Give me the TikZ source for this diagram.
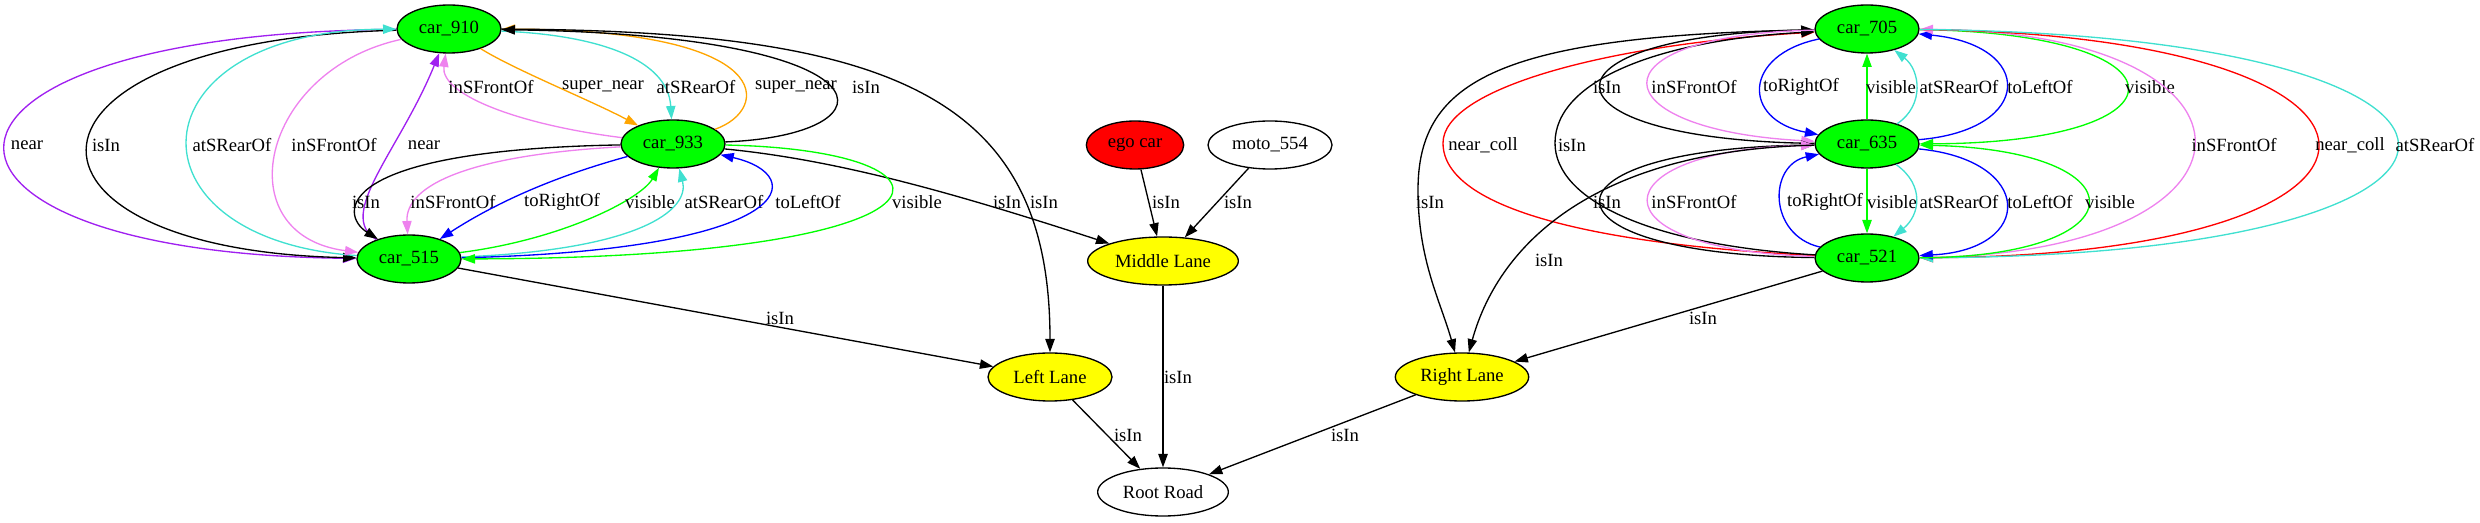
\documentclass[tikz,border=0pt]{standalone}
\usepackage{fontspec}
\setmainfont{Liberation Serif}
\usetikzlibrary{arrows.meta,shapes.geometric}

\definecolor{gvgreen}{HTML}{00FF00}
\definecolor{gvyellow}{HTML}{FFFF00}
\definecolor{gvred}{HTML}{FF0000}
\definecolor{gvblue}{HTML}{0000FF}
\definecolor{gvturq}{HTML}{40E0D0}
\definecolor{gvviolet}{HTML}{EE82EE}
\definecolor{gvpurple}{HTML}{A020F0}
\definecolor{gvorange}{HTML}{FFA500}

\tikzset{
    obj/.style={ellipse, draw, line width=1pt, inner sep=0pt, minimum height=36pt,
        font=\fontsize{14pt}{16pt}\selectfont},
    car/.style={obj, fill=gvgreen, minimum width=78pt},
    lane/.style={obj, fill=gvyellow},
    rel/.style={line width=1pt, -{Triangle[length=10pt,width=7pt]}},
    lbl/.style={inner sep=0pt, text=black, font=\fontsize{14pt}{16pt}\selectfont}
}

\begin{document}
\begin{tikzpicture}[x=0.75pt, y=-0.75pt]
    \useasboundingbox (0,0) rectangle (2480,523);

    % objects
    \node[car] (car910) at (449,29) {car\_910};
    \node[car] (car933) at (673,144) {car\_933};
    \node[car] (car515) at (409,259) {car\_515};
    \node[car] (car705) at (1867,29) {car\_705};
    \node[car] (car635) at (1867,144) {car\_635};
    \node[car] (car521) at (1867,258) {car\_521};
    \node[obj, fill=gvred, minimum width=73pt] (ego) at (1135,145) {ego car};
    \node[obj, fill=white, minimum width=93pt] (moto554) at (1270,145) {moto\_554};
    \node[lane, minimum width=113pt] (midlane) at (1163,261) {Middle Lane};
    \node[lane, minimum width=93pt] (leftlane) at (1050,377) {Left Lane};
    \node[lane, minimum width=100pt] (rightlane) at (1462,377) {Right Lane};
    \node[obj, fill=white, minimum width=98pt] (root) at (1163,492) {Root Road};

    % car_910 / car_515
    \draw[rel, gvpurple] (car910) .. controls (-118,33) and (-118,253) .. (car515) node[lbl] (l1) at (27,145) {near};
    \draw[rel] (car910) .. controls (-8,40) and (-8,250) .. (car515) node[lbl] (l2) at (106,145) {isIn};
    \draw[rel, gvturq] (car515) .. controls (120,240) and (130,30) .. (car910) node[lbl] (l3) at (232,145) {atSRearOf};
    \draw[rel, gvviolet] (car910) .. controls (260,70) and (225,235) .. (car515) node[lbl] (l4) at (334,145) {inSFrontOf};
    \draw[rel, gvpurple] (car515) .. controls (335,215) and (400,150) .. (car910) node[lbl] (l5) at (424,145) {near};

    % car_910 / car_933
    \draw[rel, gvviolet] (car933) .. controls (520,125) and (440,95) .. (car910) node[lbl] (l6) at (491,87) {inSFrontOf};
    \draw[rel, gvorange] (car910) .. controls (515,70) and (590,100) .. (car933) node[lbl] (l7) at (603,87) {super\_near};
    \draw[rel, gvturq] (car910) .. controls (600,35) and (668,60) .. (car933) node[lbl] (l8) at (696,87) {atSRearOf};
    \draw[rel, gvorange] (car933) .. controls (770,110) and (780,30) .. (car910) node[lbl] (l9) at (796,87) {super\_near};
    \draw[rel] (car933) .. controls (900,135) and (900,35) .. (car910) node[lbl] (l10) at (866,87) {isIn};
    \draw[rel] (car910) .. controls (900,30) and (1050,100) .. (leftlane) node[lbl] (l11) at (1044,202) {isIn};
    \draw[rel] (car933) .. controls (840,160) and (960,195) .. (midlane) node[lbl] (l12) at (1007,202) {isIn};

    % car_933 / car_515
    \draw[rel] (car933) .. controls (330,150) and (340,215) .. (car515) node[lbl] (l13) at (366,202) {isIn};
    \draw[rel, gvviolet] (car933) .. controls (470,155) and (405,185) .. (car515) node[lbl] (l14) at (453,202) {inSFrontOf};
    \draw[rel, gvblue] (car933) .. controls (560,175) and (500,200) .. (car515) node[lbl] (l15) at (562,202) {toRightOf};
    \draw[rel, gvgreen] (car515) .. controls (560,240) and (640,200) .. (car933) node[lbl] (l16) at (650,202) {visible};
    \draw[rel, gvturq] (car515) .. controls (640,250) and (690,210) .. (car933) node[lbl] (l17) at (724,202) {atSRearOf};
    \draw[rel, gvblue] (car515) .. controls (800,250) and (810,175) .. (car933) node[lbl] (l18) at (808,202) {toLeftOf};
    \draw[rel, gvgreen] (car933) .. controls (980,150) and (980,258) .. (car515) node[lbl] (l19) at (917,202) {visible};

    % lanes and road
    \draw[rel] (car515) -- (leftlane) node[lbl] (l20) at (780,318) {isIn};
    \draw[rel] (ego) -- (midlane) node[lbl] (l21) at (1166,202) {isIn};
    \draw[rel] (moto554) -- (midlane) node[lbl] (l22) at (1238,202) {isIn};
    \draw[rel] (midlane) -- (root) node[lbl] (l23) at (1178,377) {isIn};
    \draw[rel] (leftlane) -- (root) node[lbl] (l24) at (1128,435) {isIn};
    \draw[rel] (rightlane) -- (root) node[lbl] (l25) at (1345,435) {isIn};

    % car_705 / car_635 / car_521, left side
    \draw[rel] (car705) .. controls (1500,35) and (1418,80) .. (1418,190) .. controls (1418,260) and (1440,300) .. (rightlane) node[lbl] (l26) at (1430,202) {isIn};
    \draw[rel, gvred] (car521) .. controls (1600,245) and (1443,210) .. (1443,143) .. controls (1443,90) and (1600,45) .. (car705) node[lbl] (l27) at (1483,145) {near\_coll};
    \draw[rel] (car521) .. controls (1650,245) and (1555,200) .. (1555,143) .. controls (1555,80) and (1660,40) .. (car705) node[lbl] (l28) at (1572,145) {isIn};
    \draw[rel] (car635) .. controls (1530,140) and (1530,35) .. (car705) node[lbl] (l29) at (1607,87) {isIn};
    \draw[rel, gvviolet] (car705) .. controls (1586,35) and (1600,130) .. (car635) node[lbl] (l30) at (1694,87) {inSFrontOf};
    \draw[rel] (car521) .. controls (1530,255) and (1530,150) .. (car635) node[lbl] (l31) at (1607,202) {isIn};
    \draw[rel, gvviolet] (car521) .. controls (1587,250) and (1600,150) .. (car635) node[lbl] (l32) at (1694,202) {inSFrontOf};
    \draw[rel] (car635) .. controls (1600,150) and (1500,240) .. (rightlane) node[lbl] (l33) at (1549,260) {isIn};
    \draw[rel] (car521) -- (rightlane) node[lbl] (l34) at (1703,318) {isIn};

    % car_705 / car_635
    \draw[rel, gvblue] (car705) .. controls (1742,55) and (1742,120) .. (car635) node[lbl] (l35) at (1801,87) {toRightOf};
    \draw[rel, gvgreen] (car635) -- (car705) node[lbl] (l36) at (1891,87) {visible};
    \draw[rel, gvturq] (car635) .. controls (1925,105) and (1920,70) .. (car705) node[lbl] (l37) at (1959,87) {atSRearOf};
    \draw[rel, gvblue] (car635) .. controls (2035,130) and (2035,45) .. (car705) node[lbl] (l38) at (2040,87) {toLeftOf};
    \draw[rel, gvgreen] (car705) .. controls (2196,33) and (2196,143) .. (car635) node[lbl] (l39) at (2150,87) {visible};

    % car_705 / car_521, right side
    \draw[rel, gvviolet] (car521) .. controls (2285,255) and (2285,32) .. (car705) node[lbl] (l40) at (2234,145) {inSFrontOf};
    \draw[rel, gvred] (car705) .. controls (2450,35) and (2450,255) .. (car521) node[lbl] (l41) at (2350,145) {near\_coll};
    \draw[rel, gvturq] (car705) .. controls (2556,35) and (2556,255) .. (car521) node[lbl] (l42) at (2435,145) {atSRearOf};

    % car_635 / car_521
    \draw[rel, gvblue] (car521) .. controls (1768,235) and (1768,165) .. (car635) node[lbl] (l43) at (1825,202) {toRightOf};
    \draw[rel, gvgreen] (car635) -- (car521) node[lbl] (l44) at (1892,202) {visible};
    \draw[rel, gvturq] (car635) .. controls (1925,185) and (1920,215) .. (car521) node[lbl] (l45) at (1959,202) {atSRearOf};
    \draw[rel, gvblue] (car635) .. controls (2035,160) and (2035,250) .. (car521) node[lbl] (l46) at (2040,202) {toLeftOf};
    \draw[rel, gvgreen] (car521) .. controls (2144,257) and (2144,150) .. (car635) node[lbl] (l47) at (2110,202) {visible};
\end{tikzpicture}
\end{document}
